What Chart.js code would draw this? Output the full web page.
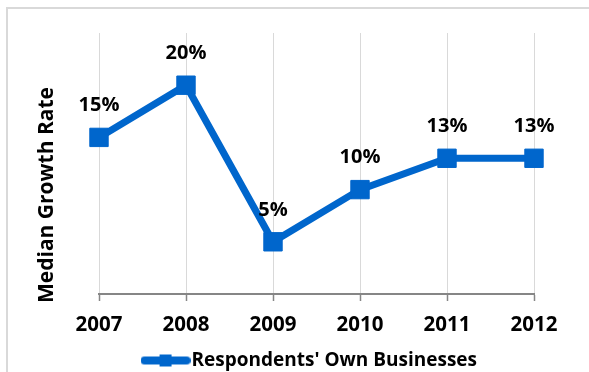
<!DOCTYPE html>
<html>
<head>
<meta charset="utf-8">
<script src="https://cdn.jsdelivr.net/npm/chart.js@4"></script>
<style>
  html, body { margin: 0; padding: 0; overflow: hidden; background: #ffffff; }
  #wrap { position: absolute; left: 0; top: 0; width: 626px; height: 385px; }
</style>
</head>
<body>
<div id="wrap"><canvas id="chart" width="626" height="385"></canvas></div>
<script>
// Median growth rate of respondents' own businesses, 2007–2012 (percent)
const years = ['2007', '2008', '2009', '2010', '2011', '2012'];
const growthRate = [15, 20, 5, 10, 13, 13];
const seriesName = "Respondents' Own Businesses";
const axisTitle = 'Median Growth Rate';

const BLUE = '#0066CC';
const FONT = '"Open Sans"';

// Legend symbol: thick line with a square marker in the middle
const legendSymbol = (() => {
  const c = document.createElement('canvas');
  c.width = 50; c.height = 14;
  const g = c.getContext('2d');
  g.strokeStyle = BLUE;
  g.lineWidth = 8;
  g.lineCap = 'round';
  g.beginPath(); g.moveTo(4, 7); g.lineTo(46, 7); g.stroke();
  g.fillStyle = BLUE;
  g.fillRect(19, 1, 12, 12);
  return c;
})();

// White background and the chart frame
const frame = {
  id: 'frame',
  beforeDraw(chart) {
    const ctx = chart.ctx;
    ctx.save();
    ctx.fillStyle = '#ffffff';
    ctx.fillRect(0, 0, chart.width, chart.height);
    ctx.strokeStyle = '#d9d9d9';
    ctx.lineWidth = 2;
    ctx.strokeRect(7, 8, 800, 600);
    ctx.restore();
  }
};

// Rotated value-axis title
const yTitle = {
  id: 'yTitle',
  afterDraw(chart) {
    const ctx = chart.ctx;
    ctx.save();
    ctx.translate(47, 195);
    ctx.rotate(-Math.PI / 2);
    ctx.font = `bold 21px ${FONT}`;
    ctx.fillStyle = '#000000';
    ctx.textAlign = 'center';
    ctx.textBaseline = 'middle';
    ctx.fillText(axisTitle, 0, 0);
    ctx.restore();
  }
};

// Percentage labels above each point
const valueLabels = {
  id: 'valueLabels',
  afterDatasetsDraw(chart) {
    const ctx = chart.ctx;
    const meta = chart.getDatasetMeta(0);
    const data = chart.data.datasets[0].data;
    ctx.save();
    ctx.font = `bold 20px ${FONT}`;
    ctx.fillStyle = '#000000';
    ctx.textAlign = 'center';
    ctx.textBaseline = 'middle';
    meta.data.forEach((pt, i) => {
      ctx.fillText(data[i] + '%', pt.x, pt.y - 32);
    });
    ctx.restore();
  }
};

new Chart(document.getElementById('chart'), {
  type: 'line',
  data: {
    labels: years,
    datasets: [{
      label: seriesName,
      data: growthRate,
      borderColor: BLUE,
      backgroundColor: BLUE,
      borderWidth: 7,
      pointStyle: 'rect',
      pointRadius: 13,
      pointBorderWidth: 1,
      pointBorderColor: BLUE,
      pointBackgroundColor: BLUE,
      tension: 0
    }]
  },
  options: {
    responsive: false,
    animation: false,
    events: [],
    layout: { padding: { top: 33, left: 0, right: 0, bottom: 5 } },
    plugins: {
      tooltip: { enabled: false },
      legend: {
        position: 'bottom',
        labels: {
          usePointStyle: true,
          pointStyle: legendSymbol,
          pointStyleWidth: 33,
          padding: 10,
          color: '#000000',
          font: { family: FONT, size: 19, weight: 'bold' }
        }
      }
    },
    scales: {
      x: {
        offset: false,
        grid: {
          display: true,
          color: '#d9d9d9',
          lineWidth: 1,
          drawTicks: true,
          tickLength: 7,
          tickColor: '#868686',
          tickWidth: 1.5
        },
        border: { display: true, color: '#868686', width: 2 },
        ticks: {
          color: '#000000',
          padding: 12,
          maxRotation: 0,
          font: { family: FONT, size: 20.5, weight: 'bold' }
        },
        afterFit(scale) { scale.height = 47; }
      },
      y: {
        min: 0,
        max: 25,
        grid: { display: false },
        border: { display: false },
        ticks: { display: false },
        afterFit(scale) { scale.width = 99; }
      },
      yRight: {
        position: 'right',
        grid: { display: false },
        border: { display: false },
        ticks: { display: false },
        afterFit(scale) { scale.width = 92; }
      }
    }
  },
  plugins: [frame, yTitle, valueLabels]
});
</script>
</body>
</html>
